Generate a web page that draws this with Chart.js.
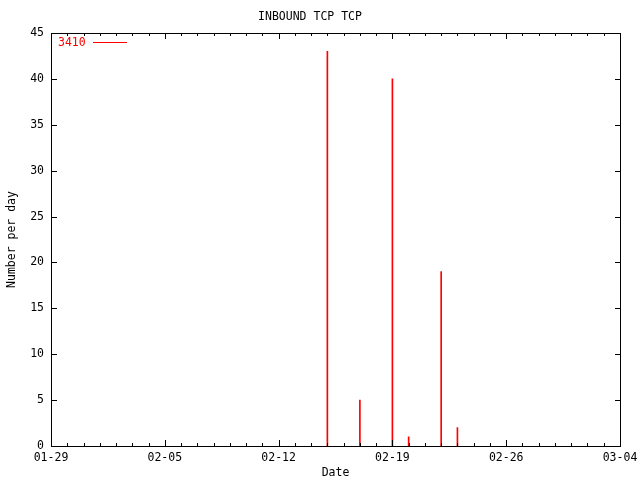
<!DOCTYPE html>
<html>
<head>
<meta charset="utf-8">
<script src="https://cdn.jsdelivr.net/npm/chart.js@4/dist/chart.umd.min.js"></script>
<style>
  html, body { margin: 0; padding: 0; background: #fff; }
</style>
</head>
<body>
<canvas id="chart" width="640" height="480"></canvas>
<script>
// days counted from 01-29 (0) to 03-04 (35)
const seriesName = "3410";
const dayOffsets = [17, 19, 21, 22, 24, 25];
const counts = [43, 5, 40, 1, 19, 2];
const dateTicks = ["01-29", "02-05", "02-12", "02-19", "02-26", "03-04"];
const yTicks = [0, 5, 10, 15, 20, 25, 30, 35, 40, 45];
const lastDay = 35;

const FONT = { family: "DejaVu Sans Mono", size: 11.5 };
const RED = "#ff0000";

// gnuplot style frame: box, inward ticks on all four sides, legend in the corner
const gnuplotFrame = {
  id: "gnuplotFrame",
  afterDraw(chart) {
    const { ctx, chartArea: a, scales } = chart;
    const x = scales.x;
    const y = scales.y;
    ctx.save();
    ctx.strokeStyle = "#000";
    ctx.lineWidth = 1;
    ctx.strokeRect(a.left + 0.5, a.top + 0.5, a.right - a.left, a.bottom - a.top);

    ctx.beginPath();
    for (let d = 0; d <= lastDay; d++) {
      const px = Math.round(x.getPixelForValue(d)) + 0.5;
      const len = d % 7 === 0 ? 6 : 3;
      ctx.moveTo(px, a.bottom);
      ctx.lineTo(px, a.bottom - len);
      ctx.moveTo(px, a.top);
      ctx.lineTo(px, a.top + len);
    }
    yTicks.forEach((v) => {
      const py = Math.round(y.getPixelForValue(v)) + 0.5;
      ctx.moveTo(a.left, py);
      ctx.lineTo(a.left + 6, py);
      ctx.moveTo(a.right + 1, py);
      ctx.lineTo(a.right - 5, py);
    });
    ctx.stroke();

    // legend
    const label = chart.data.datasets[0].label;
    ctx.font = `${FONT.size}px ${FONT.family}`;
    ctx.fillStyle = RED;
    ctx.textAlign = "left";
    ctx.textBaseline = "middle";
    ctx.fillText(label, a.left + 7, a.top + 10);
    ctx.strokeStyle = RED;
    ctx.beginPath();
    ctx.moveTo(a.left + 42, a.top + 9.5);
    ctx.lineTo(a.left + 76, a.top + 9.5);
    ctx.stroke();
    ctx.restore();
  },
};

new Chart(document.getElementById("chart"), {
  type: "bar",
  data: {
    datasets: [
      {
        label: seriesName,
        data: dayOffsets.map((d, i) => ({ x: d, y: counts[i] })),
        backgroundColor: RED,
        borderWidth: 0,
        barThickness: 1,
      },
    ],
  },
  options: {
    responsive: false,
    animation: false,
    devicePixelRatio: 1,
    layout: { padding: { left: 0, right: 20, top: 0, bottom: 0 } },
    plugins: {
      legend: { display: false },
      tooltip: { enabled: false },
      title: {
        display: true,
        text: "INBOUND TCP TCP",
        color: "#000",
        font: { ...FONT, weight: "normal" },
        padding: { top: 10, bottom: 9.2 },
      },
    },
    scales: {
      x: {
        type: "linear",
        min: 0,
        max: lastDay,
        offset: false,
        grid: { display: false, drawTicks: false },
        border: { display: false },
        ticks: {
          stepSize: 7,
          autoSkip: false,
          maxRotation: 0,
          padding: 5,
          color: "#000",
          font: FONT,
          callback: (v) => dateTicks[v / 7] ?? "",
        },
        title: {
          display: true,
          text: "Date",
          color: "#000",
          font: FONT,
          padding: { top: 0, bottom: 0 },
        },
        afterFit: (s) => {
          s.height = 34;
          s.paddingLeft = 0;
          s.paddingRight = 0;
        },
      },
      y: {
        min: 0,
        max: 45,
        grid: { display: false, drawTicks: false },
        border: { display: false },
        ticks: {
          stepSize: 5,
          padding: 7,
          color: "#000",
          font: FONT,
        },
        title: {
          display: true,
          text: "Number per day",
          color: "#000",
          font: FONT,
          padding: { top: 5, bottom: 0 },
        },
        afterFit: (s) => { s.width = 51; },
      },
    },
  },
  plugins: [gnuplotFrame],
});
</script>
</body>
</html>
